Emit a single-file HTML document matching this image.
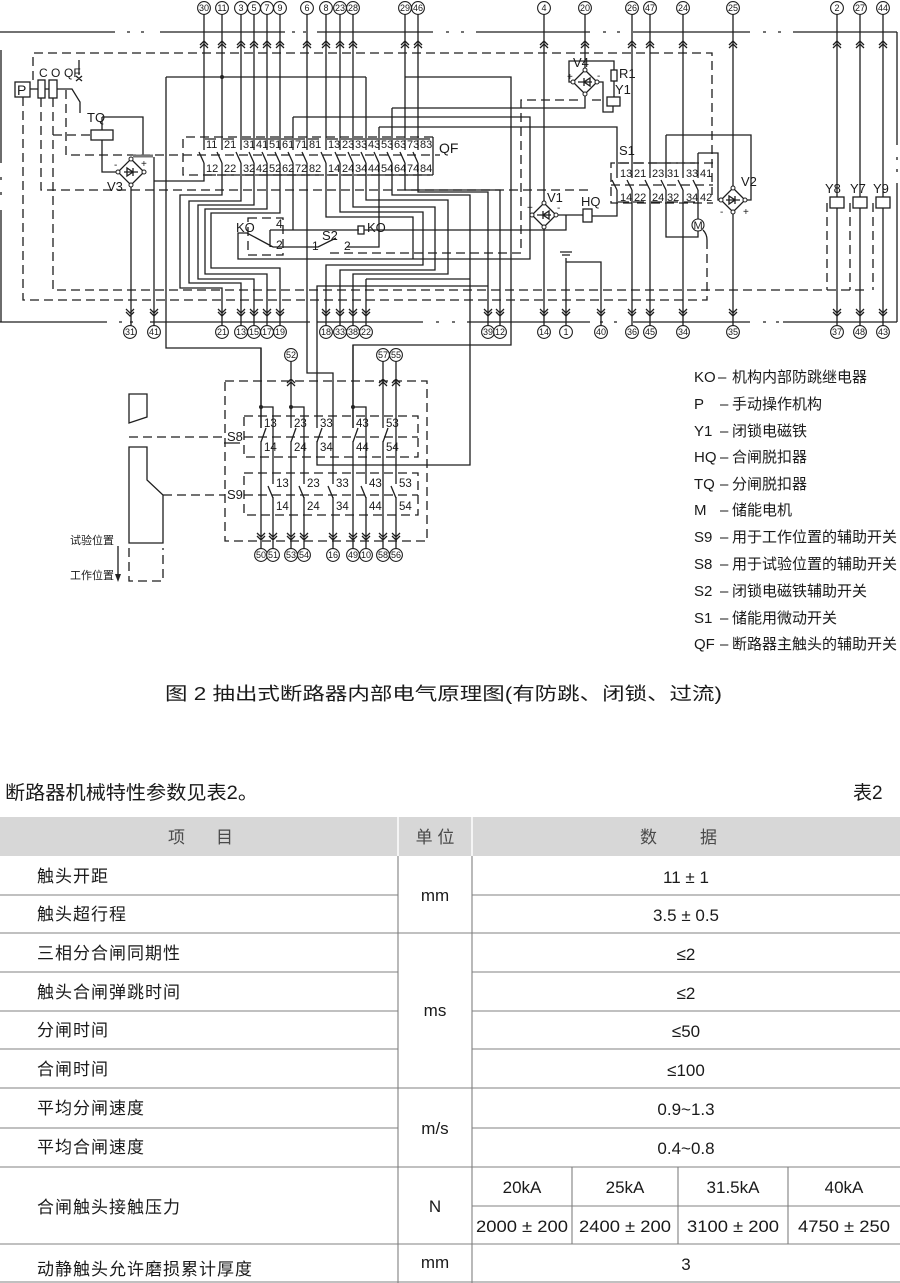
<!DOCTYPE html>
<html><head><meta charset="utf-8">
<style>
html,body{margin:0;padding:0;background:#fff;}
body{width:900px;height:1283px;overflow:hidden;position:relative;}
svg{position:absolute;left:0;top:0;}
.w{stroke:#1e1e1e;stroke-width:1.3;fill:none}
.d{stroke:#1e1e1e;stroke-width:1.3;fill:none;stroke-dasharray:9 5}
.t{font-family:"Liberation Sans","Noto Sans CJK SC",sans-serif;font-size:11px;fill:#1a1a1a}
.q{font-family:"Liberation Sans",sans-serif;font-size:11px;fill:#1a1a1a}
.n{font-family:"Liberation Sans",sans-serif;font-size:9px;fill:#1a1a1a;text-anchor:middle}
.c{fill:#fff;stroke:#1e1e1e;stroke-width:1.1}
.lg{font-family:"Liberation Sans","Noto Sans CJK SC",sans-serif;font-size:15px;fill:#1a1a1a}
.tb{font-family:"Liberation Sans","Noto Sans CJK SC",sans-serif;font-size:17px;fill:#1a1a1a;letter-spacing:1px}
.tv{font-family:"Liberation Sans","Noto Sans CJK SC",sans-serif;font-size:17px;fill:#1a1a1a;text-anchor:middle}
.th{font-family:"Liberation Sans","Noto Sans CJK SC",sans-serif;font-size:17px;fill:#4a4a4a}
.tl{stroke:#808080;stroke-width:1.1;fill:none}
</style></head><body>
<svg width="900" height="1283" viewBox="0 0 900 1283">
<!-- ===== frame dash-dot lines ===== -->
<path class="w" d="M0,32H115M127,32h3M141,32h3M160,32H285M292,32h3M303,32h3M317,32H433M446,32h3M461,32h3M476,32H590M603,32h3M617,32h3M633,32H750M763,32h3M778,32h3M793,32H897
M0,322H107M119,322h3M130,322h3M150,322H310M317,322H423M436,322h3M452,322h3M467,322H590M600,322h3M614,322h3M633,322H750M763,322h3M776,322h3M783,322H897
M1,50V163M1,177v3M1,192v3M1,210V322
M897,32V145M897,157v3M897,169v3M897,183V322"/>

<!-- ===== dashed lines ===== -->
<path class="d" d="M33,80V53H712V195
M23,97V300H707V235
M53,98V290H867
M41,98V190H590
M66,90V155H440
M53,135H90
M433,137H183V175H433
M330,253H521V100H580M592,100H605
M713,163H611V203H713M611,185H713
M827,203V290M850,203V290M873,203V290
M248,218H283V255H248Z"/>
<path class="w" d="M433,137V175"/>

<!-- ===== terminal chevrons top ===== -->
<path class="w" d="M200,45l4-4l4,4m-8,3l4-4l4,4M218,45l4-4l4,4m-8,3l4-4l4,4M237,45l4-4l4,4m-8,3l4-4l4,4M250,45l4-4l4,4m-8,3l4-4l4,4M263,45l4-4l4,4m-8,3l4-4l4,4M276,45l4-4l4,4m-8,3l4-4l4,4M303,45l4-4l4,4m-8,3l4-4l4,4M322,45l4-4l4,4m-8,3l4-4l4,4M336,45l4-4l4,4m-8,3l4-4l4,4M349,45l4-4l4,4m-8,3l4-4l4,4M401,45l4-4l4,4m-8,3l4-4l4,4M414,45l4-4l4,4m-8,3l4-4l4,4M540,45l4-4l4,4m-8,3l4-4l4,4M581,45l4-4l4,4m-8,3l4-4l4,4M628,45l4-4l4,4m-8,3l4-4l4,4M646,45l4-4l4,4m-8,3l4-4l4,4M679,45l4-4l4,4m-8,3l4-4l4,4M729,45l4-4l4,4m-8,3l4-4l4,4M833,45l4-4l4,4m-8,3l4-4l4,4M856,45l4-4l4,4m-8,3l4-4l4,4M879,45l4-4l4,4m-8,3l4-4l4,4"/>
<!-- bottom chevrons -->
<path class="w" d="M126,309l4,4l4-4m-8,3l4,4l4-4M150,309l4,4l4-4m-8,3l4,4l4-4M218,309l4,4l4-4m-8,3l4,4l4-4M237,309l4,4l4-4m-8,3l4,4l4-4M250,309l4,4l4-4m-8,3l4,4l4-4M263,309l4,4l4-4m-8,3l4,4l4-4M276,309l4,4l4-4m-8,3l4,4l4-4M322,309l4,4l4-4m-8,3l4,4l4-4M336,309l4,4l4-4m-8,3l4,4l4-4M349,309l4,4l4-4m-8,3l4,4l4-4M362,309l4,4l4-4m-8,3l4,4l4-4M484,309l4,4l4-4m-8,3l4,4l4-4M496,309l4,4l4-4m-8,3l4,4l4-4M540,309l4,4l4-4m-8,3l4,4l4-4M562,309l4,4l4-4m-8,3l4,4l4-4M597,309l4,4l4-4m-8,3l4,4l4-4M628,309l4,4l4-4m-8,3l4,4l4-4M646,309l4,4l4-4m-8,3l4,4l4-4M679,309l4,4l4-4m-8,3l4,4l4-4M729,309l4,4l4-4m-8,3l4,4l4-4M833,309l4,4l4-4m-8,3l4,4l4-4M856,309l4,4l4-4m-8,3l4,4l4-4M879,309l4,4l4-4m-8,3l4,4l4-4"/>

<!-- ===== main wires ===== -->
<path class="w" d="M204,14V150M204,163V181H154
M222,14V150M222,163V195H180V288H222V326
M241,14V150M241,163V201H189V283H241V326
M254,14V150M254,163V205H198V279H254V326
M267,14V150M267,163V209H205V274H267V326
M280,14V150M280,163V213H211V268H280V326
M293,117V150M293,163V230
M307,14V150M307,163V373H333V484
M326,14V150M326,163V217H413V259
M340,14V150M340,163V212H423V265H326V326
M353,14V150M353,163V207H435V270H340V326
M366,77V150M366,163V200H448V274H353V326
M366,279V326M366,279H470
M379,127V150M379,163V247H347
M392,108V150M392,163V195H470V465H317V441M317,428V286H488
M405,14V150M405,163V190H500V326
M418,14V150M418,163V192H488V326
M166,77H366M166,77V348H261V428
M405,77H511V345H353V428
M293,117H530V259H238V233H247L273,247M270,230V247
M270,230H359M364,230H566V215M556,215H583
M273,247H318L336,238M347,247
M379,127H617V178
M392,108H585V94
M154,157V326
M102,117H143V157M102,117V130M102,140V172H118
M131,185V326
M544,14V202M544,228V326
M585,14V70
M573,82H569V61H614V70M614,81V97M597,82H603V112H613V106
M617,190V216H592
M632,14V178M632,190V326
M650,14V178M650,190V326
M683,14V178M683,190V326
M666,135V178M666,190V237H698V231
M666,135H751V200H745
M698,153V178M698,190V219
M698,153H718V200H721
M733,14V187M733,213V326
M837,14V197M837,208V326
M860,14V197M860,208V326
M883,14V197M883,208V326
M566,258V326M566,262H601V326
M560,252H572M562,255H570
M30,89H38M45,89H49M57,89H72L80,102V113M79,60V75M76,76l6,5M82,76l-6,5
M703,230q4,4 4,10"/>
<path d="M133,156H153" stroke="#777" stroke-width="3"/>
<circle cx="222" cy="77" r="2" fill="#222"/>

<!-- QF contact blades & bars -->
<path class="w" d="M199,152L204,163M217,152L222,163M236,152L241,163M249,152L254,163M262,152L267,163M275,152L280,163M288,152L293,163M302,152L307,163M321,152L326,163M335,152L340,163M348,152L353,163M361,152L366,163M374,152L379,163M387,152L392,163M400,152L405,163M413,152L418,163
M205,139h11M223,139h11M242,139h11M255,139h11M268,139h11M281,139h11M294,139h11M308,139h11M327,139h11M341,139h11M354,139h11M367,139h11M380,139h11M393,139h11M406,139h11M419,139h11
M205,175h11M223,175h11M242,175h11M255,175h11M268,175h11M281,175h11M294,175h11M308,175h11M327,175h11M341,175h11M354,175h11M367,175h11M380,175h11M393,175h11M406,175h11M419,175h11"/>
<g class="q">
<text x="206" y="148">11</text><text x="224" y="148">21</text><text x="243" y="148">31</text><text x="256" y="148">41</text><text x="269" y="148">51</text><text x="282" y="148">61</text><text x="295" y="148">71</text><text x="309" y="148">81</text><text x="328" y="148">13</text><text x="342" y="148">23</text><text x="355" y="148">33</text><text x="368" y="148">43</text><text x="381" y="148">53</text><text x="394" y="148">63</text><text x="407" y="148">73</text><text x="420" y="148">83</text>
<text x="206" y="172">12</text><text x="224" y="172">22</text><text x="243" y="172">32</text><text x="256" y="172">42</text><text x="269" y="172">52</text><text x="282" y="172">62</text><text x="295" y="172">72</text><text x="309" y="172">82</text><text x="328" y="172">14</text><text x="342" y="172">24</text><text x="355" y="172">34</text><text x="368" y="172">44</text><text x="381" y="172">54</text><text x="394" y="172">64</text><text x="407" y="172">74</text><text x="420" y="172">84</text>
</g>
<text class="t" x="439" y="153" style="font-size:14px">QF</text>

<!-- S1 contacts -->
<path class="w" d="M612,180L617,190M627,180L632,190M645,180L650,190M661,180L666,190M678,180L683,190M693,180L698,190
M618,163h11M633,163h11M651,163h11M667,163h11M684,163h11
M618,202h11M633,202h11M651,202h11M667,202h11M684,202h11"/>
<g class="q">
<text x="620" y="177">13</text><text x="634" y="177">21</text><text x="652" y="177">23</text><text x="667" y="177">31</text><text x="686" y="177">33</text><text x="700" y="177">41</text>
<text x="620" y="201">14</text><text x="634" y="201">22</text><text x="652" y="201">24</text><text x="667" y="201">32</text><text x="686" y="201">34</text><text x="700" y="201">42</text>
</g>
<text class="t" x="619" y="155" style="font-size:13px">S1</text>

<!-- boxes -->
<g class="w">
<rect x="15" y="82" width="15" height="15"/>
<rect x="38" y="80" width="7" height="18"/>
<rect x="49" y="80" width="8" height="18"/>
<rect x="91" y="130" width="22" height="10"/>
<rect x="358" y="226" width="6" height="8"/>
<rect x="583" y="209" width="9" height="13"/>
<rect x="611" y="70" width="6" height="11"/>
<rect x="607" y="97" width="13" height="9"/>
<rect x="830" y="197" width="14" height="11"/>
<rect x="853" y="197" width="14" height="11"/>
<rect x="876" y="197" width="14" height="11"/>
</g>
<circle cx="698" cy="225" r="6" class="c"/>
<text class="t" x="693.5" y="229" style="font-size:11px">M</text>

<!-- bridges -->
<g>
<polygon class="w" points="131,159 144,172 131,185 118,172"/>
<path class="w" d="M124,172H138M127,168v8l6,-4z M133,168v8"/>
<polygon class="w" points="544,203 556,215 544,227 532,215"/>
<path class="w" d="M537,215H551M549,211v8l-6,-4z M543,211v8"/>
<polygon class="w" points="585,70 597,82 585,94 573,82"/>
<path class="w" d="M578,82H592M590,78v8l-6,-4z M584,78v8"/>
<polygon class="w" points="733,188 745,200 733,212 721,200"/>
<path class="w" d="M726,200H740M729,196v8l6,-4z M735,196v8"/>
</g>
<g fill="#fff" stroke="#1e1e1e" stroke-width="1">
<circle cx="131" cy="159" r="2"/><circle cx="144" cy="172" r="2"/><circle cx="131" cy="185" r="2"/><circle cx="118" cy="172" r="2"/>
<circle cx="544" cy="203" r="2"/><circle cx="556" cy="215" r="2"/><circle cx="544" cy="227" r="2"/><circle cx="532" cy="215" r="2"/>
<circle cx="585" cy="70" r="2"/><circle cx="597" cy="82" r="2"/><circle cx="585" cy="94" r="2"/><circle cx="573" cy="82" r="2"/>
<circle cx="733" cy="188" r="2"/><circle cx="745" cy="200" r="2"/><circle cx="733" cy="212" r="2"/><circle cx="721" cy="200" r="2"/>
</g>

<!-- diagram labels -->
<g class="t" style="font-size:13px">
<text x="17" y="95" style="font-size:14px">P</text>
<text x="39" y="77" style="font-size:12px">C</text><text x="51" y="77" style="font-size:12px">O</text><text x="64" y="77" style="font-size:12px">QF</text>
<text x="87" y="122">TQ</text>
<text x="107" y="191">V3</text>
<text x="114" y="168" style="font-size:10px">-</text><text x="141" y="167" style="font-size:10px">+</text>
<text x="236" y="232">KO</text>
<text x="276" y="228" style="font-size:12px">4</text><text x="276" y="249" style="font-size:12px">2</text>
<text x="322" y="240">S2</text>
<text x="312" y="250" style="font-size:12px">1</text><text x="344" y="250" style="font-size:12px">2</text>
<text x="367" y="232">KO</text>
<text x="547" y="202">V1</text>
<text x="527" y="211" style="font-size:10px">+</text><text x="557" y="211" style="font-size:10px">-</text>
<text x="581" y="206">HQ</text>
<text x="573" y="67">V4</text>
<text x="567" y="80" style="font-size:10px">+</text><text x="597" y="79" style="font-size:10px">-</text>
<text x="619" y="78">R1</text>
<text x="615" y="94">Y1</text>
<text x="741" y="186">V2</text>
<text x="720" y="215" style="font-size:10px">-</text><text x="743" y="215" style="font-size:10px">+</text>
<text x="825" y="193">Y8</text><text x="850" y="193">Y7</text><text x="873" y="193">Y9</text>
</g>

<!-- terminal circles top -->
<g>
<circle class="c" cx="204" cy="8" r="6.4"/><circle class="c" cx="222" cy="8" r="6.4"/><circle class="c" cx="241" cy="8" r="6.4"/><circle class="c" cx="254" cy="8" r="6.4"/><circle class="c" cx="267" cy="8" r="6.4"/><circle class="c" cx="280" cy="8" r="6.4"/><circle class="c" cx="307" cy="8" r="6.4"/><circle class="c" cx="326" cy="8" r="6.4"/><circle class="c" cx="340" cy="8" r="6.4"/><circle class="c" cx="353" cy="8" r="6.4"/><circle class="c" cx="405" cy="8" r="6.4"/><circle class="c" cx="418" cy="8" r="6.4"/><circle class="c" cx="544" cy="8" r="6.4"/><circle class="c" cx="585" cy="8" r="6.4"/><circle class="c" cx="632" cy="8" r="6.4"/><circle class="c" cx="650" cy="8" r="6.4"/><circle class="c" cx="683" cy="8" r="6.4"/><circle class="c" cx="733" cy="8" r="6.4"/><circle class="c" cx="837" cy="8" r="6.4"/><circle class="c" cx="860" cy="8" r="6.4"/><circle class="c" cx="883" cy="8" r="6.4"/>
</g>
<g class="n">
<text x="204" y="11.2">30</text><text x="222" y="11.2">11</text><text x="241" y="11.2">3</text><text x="254" y="11.2">5</text><text x="267" y="11.2">7</text><text x="280" y="11.2">9</text><text x="307" y="11.2">6</text><text x="326" y="11.2">8</text><text x="340" y="11.2">23</text><text x="353" y="11.2">28</text><text x="405" y="11.2">29</text><text x="418" y="11.2">46</text><text x="544" y="11.2">4</text><text x="585" y="11.2">20</text><text x="632" y="11.2">26</text><text x="650" y="11.2">47</text><text x="683" y="11.2">24</text><text x="733" y="11.2">25</text><text x="837" y="11.2">2</text><text x="860" y="11.2">27</text><text x="883" y="11.2">44</text>
</g>
<!-- terminal circles bottom -->
<g>
<circle class="c" cx="130" cy="332" r="6.4"/><circle class="c" cx="154" cy="332" r="6.4"/><circle class="c" cx="222" cy="332" r="6.4"/><circle class="c" cx="241" cy="332" r="6.4"/><circle class="c" cx="254" cy="332" r="6.4"/><circle class="c" cx="267" cy="332" r="6.4"/><circle class="c" cx="280" cy="332" r="6.4"/><circle class="c" cx="326" cy="332" r="6.4"/><circle class="c" cx="340" cy="332" r="6.4"/><circle class="c" cx="353" cy="332" r="6.4"/><circle class="c" cx="366" cy="332" r="6.4"/><circle class="c" cx="488" cy="332" r="6.4"/><circle class="c" cx="500" cy="332" r="6.4"/><circle class="c" cx="544" cy="332" r="6.4"/><circle class="c" cx="566" cy="332" r="6.4"/><circle class="c" cx="601" cy="332" r="6.4"/><circle class="c" cx="632" cy="332" r="6.4"/><circle class="c" cx="650" cy="332" r="6.4"/><circle class="c" cx="683" cy="332" r="6.4"/><circle class="c" cx="733" cy="332" r="6.4"/><circle class="c" cx="837" cy="332" r="6.4"/><circle class="c" cx="860" cy="332" r="6.4"/><circle class="c" cx="883" cy="332" r="6.4"/>
</g>
<g class="n">
<text x="130" y="335.2">31</text><text x="154" y="335.2">41</text><text x="222" y="335.2">21</text><text x="241" y="335.2">13</text><text x="254" y="335.2">15</text><text x="267" y="335.2">17</text><text x="280" y="335.2">19</text><text x="326" y="335.2">18</text><text x="340" y="335.2">33</text><text x="353" y="335.2">38</text><text x="366" y="335.2">22</text><text x="488" y="335.2">39</text><text x="500" y="335.2">12</text><text x="544" y="335.2">14</text><text x="566" y="335.2">1</text><text x="601" y="335.2">40</text><text x="632" y="335.2">36</text><text x="650" y="335.2">45</text><text x="683" y="335.2">34</text><text x="733" y="335.2">35</text><text x="837" y="335.2">37</text><text x="860" y="335.2">48</text><text x="883" y="335.2">43</text>
</g>

<!-- ===== S8 / S9 block ===== -->
<path class="d" d="M225,381H427V541H225Z M244,416H418V457H244Z M244,473H418V515H244Z M129,437H225M244,437H418 M163,495H225M244,495H418 M129,548V581H163V548"/>
<path class="w" d="M129,394H147V417L129,423Z M129,447H147V480L163,495V543H129Z
M261,348V428M261,441V549
M261,407H273V484M273,497V549
M291,361V428M291,441V549
M291,407H304V484M304,497V549
M333,497V549
M353,345V428M353,441V549
M353,407H366V484M366,497V549
M383,361V428M383,441V549
M396,361V484M396,497V549
M261,442L266,428M291,442L296,428M317,442L322,428M353,442L358,428M383,442L388,428
M268,486L273,498M299,486L304,498M328,486L333,498M361,486L366,498M391,486L396,498
M287,383l4-4l4,4m-8,3l4-4l4,4M379,383l4-4l4,4m-8,3l4-4l4,4M392,383l4-4l4,4m-8,3l4-4l4,4
M257,533l4,4l4-4m-8,3l4,4l4-4M269,533l4,4l4-4m-8,3l4,4l4-4M287,533l4,4l4-4m-8,3l4,4l4-4M300,533l4,4l4-4m-8,3l4,4l4-4M329,533l4,4l4-4m-8,3l4,4l4-4M349,533l4,4l4-4m-8,3l4,4l4-4M362,533l4,4l4-4m-8,3l4,4l4-4M379,533l4,4l4-4m-8,3l4,4l4-4M392,533l4,4l4-4m-8,3l4,4l4-4
M118,546V576 M224,443H240"/>
<path d="M118,582l-3,-8h6z" fill="#222"/>
<circle cx="261" cy="407" r="2" fill="#222"/><circle cx="291" cy="407" r="2" fill="#222"/><circle cx="353" cy="407" r="2" fill="#222"/>
<g class="q" style="font-size:11.5px">
<text x="264" y="427">13</text><text x="294" y="427">23</text><text x="320" y="427">33</text><text x="356" y="427">43</text><text x="386" y="427">53</text>
<text x="264" y="451">14</text><text x="294" y="451">24</text><text x="320" y="451">34</text><text x="356" y="451">44</text><text x="386" y="451">54</text>
<text x="276" y="487">13</text><text x="307" y="487">23</text><text x="336" y="487">33</text><text x="369" y="487">43</text><text x="399" y="487">53</text>
<text x="276" y="510">14</text><text x="307" y="510">24</text><text x="336" y="510">34</text><text x="369" y="510">44</text><text x="399" y="510">54</text>
</g>
<text class="t" x="227" y="441" style="font-size:13px">S8</text>
<text class="t" x="227" y="499" style="font-size:13px">S9</text>
<g>
<circle class="c" cx="291" cy="355" r="6.4"/><circle class="c" cx="383" cy="355" r="6.4"/><circle class="c" cx="396" cy="355" r="6.4"/>
<circle class="c" cx="261" cy="555" r="6.4"/><circle class="c" cx="273" cy="555" r="6.4"/><circle class="c" cx="291" cy="555" r="6.4"/><circle class="c" cx="304" cy="555" r="6.4"/><circle class="c" cx="333" cy="555" r="6.4"/><circle class="c" cx="353" cy="555" r="6.4"/><circle class="c" cx="366" cy="555" r="6.4"/><circle class="c" cx="383" cy="555" r="6.4"/><circle class="c" cx="396" cy="555" r="6.4"/>
</g>
<g class="n">
<text x="291" y="358.2">52</text><text x="383" y="358.2">57</text><text x="396" y="358.2">55</text>
<text x="261" y="558.2">50</text><text x="273" y="558.2">51</text><text x="291" y="558.2">53</text><text x="304" y="558.2">54</text><text x="333" y="558.2">16</text><text x="353" y="558.2">49</text><text x="366" y="558.2">10</text><text x="383" y="558.2">58</text><text x="396" y="558.2">56</text>
</g>
<text class="t" x="70" y="544">试验位置</text>
<text class="t" x="70" y="579">工作位置</text>

<!-- ===== legend ===== -->
<g class="lg">
<text x="694" y="382">KO</text><text x="718" y="382">–</text><text x="732" y="382">机构内部防跳继电器</text>
<text x="694" y="409">P</text><text x="720" y="409">–</text><text x="732" y="409">手动操作机构</text>
<text x="694" y="436">Y1</text><text x="720" y="436">–</text><text x="732" y="436">闭锁电磁铁</text>
<text x="694" y="462">HQ</text><text x="720" y="462">–</text><text x="732" y="462">合闸脱扣器</text>
<text x="694" y="489">TQ</text><text x="720" y="489">–</text><text x="732" y="489">分闸脱扣器</text>
<text x="694" y="515">M</text><text x="720" y="515">–</text><text x="732" y="515">储能电机</text>
<text x="694" y="542">S9</text><text x="720" y="542">–</text><text x="732" y="542">用于工作位置的辅助开关</text>
<text x="694" y="569">S8</text><text x="720" y="569">–</text><text x="732" y="569">用于试验位置的辅助开关</text>
<text x="694" y="596">S2</text><text x="720" y="596">–</text><text x="732" y="596">闭锁电磁铁辅助开关</text>
<text x="694" y="623">S1</text><text x="720" y="623">–</text><text x="732" y="623">储能用微动开关</text>
<text x="694" y="649">QF</text><text x="720" y="649">–</text><text x="732" y="649">断路器主触头的辅助开关</text>
</g>

<!-- ===== caption ===== -->
<text x="165" y="700" textLength="557" lengthAdjust="spacingAndGlyphs" style="font-family:'Liberation Sans','Noto Sans CJK SC',sans-serif;font-size:18px;fill:#1a1a1a">图 2  抽出式断路器内部电气原理图(有防跳、闭锁、过流)</text>

<text x="5" y="799" textLength="253" lengthAdjust="spacingAndGlyphs" style="font-family:'Liberation Sans','Noto Sans CJK SC',sans-serif;font-size:19px;fill:#1a1a1a">断路器机械特性参数见表2。</text>
<text x="853" y="799" style="font-family:'Liberation Sans','Noto Sans CJK SC',sans-serif;font-size:19px;fill:#1a1a1a">表2</text>

<!-- ===== table ===== -->
<rect x="0" y="817" width="900" height="39" fill="#d7d7d7"/>
<path d="M398,817V856M472,817V856" stroke="#fff" stroke-width="1.5"/>
<path class="tl" d="M0,895H398M472,895H900
M0,933H900
M0,972H398M472,972H900
M0,1011H398M472,1011H900
M0,1049H398M472,1049H900
M0,1088H900
M0,1128H398M472,1128H900
M0,1167H900
M472,1206H900
M0,1244H900
M0,1282H900
M398,856V1283M472,856V1283
M572,1167V1244M678,1167V1244M788,1167V1244"/>
<text class="th" x="168" y="843">项</text><text class="th" x="216" y="843">目</text>
<text class="th" x="435" y="843" text-anchor="middle">单 位</text>
<text class="th" x="640" y="843">数</text><text class="th" x="700" y="843">据</text>

<g class="tb">
<text x="37" y="882">触头开距</text>
<text x="37" y="920">触头超行程</text>
<text x="37" y="959">三相分合闸同期性</text>
<text x="37" y="998">触头合闸弹跳时间</text>
<text x="37" y="1036">分闸时间</text>
<text x="37" y="1075">合闸时间</text>
<text x="37" y="1114">平均分闸速度</text>
<text x="37" y="1153">平均合闸速度</text>
<text x="37" y="1213">合闸触头接触压力</text>
<text x="37" y="1275">动静触头允许磨损累计厚度</text>
</g>
<g class="tv">
<text x="435" y="901">mm</text>
<text x="435" y="1016">ms</text>
<text x="435" y="1134">m/s</text>
<text x="435" y="1212">N</text>
<text x="435" y="1268">mm</text>
<text x="686" y="883">11 ± 1</text>
<text x="686" y="921">3.5 ± 0.5</text>
<text x="686" y="960">≤2</text>
<text x="686" y="999">≤2</text>
<text x="686" y="1037">≤50</text>
<text x="686" y="1076">≤100</text>
<text x="686" y="1115">0.9~1.3</text>
<text x="686" y="1154">0.4~0.8</text>
<text x="522" y="1193">20kA</text>
<text x="625" y="1193">25kA</text>
<text x="733" y="1193">31.5kA</text>
<text x="844" y="1193">40kA</text>
<text x="522" y="1232" textLength="92" lengthAdjust="spacingAndGlyphs">2000 ± 200</text>
<text x="625" y="1232" textLength="92" lengthAdjust="spacingAndGlyphs">2400 ± 200</text>
<text x="733" y="1232" textLength="92" lengthAdjust="spacingAndGlyphs">3100 ± 200</text>
<text x="844" y="1232" textLength="92" lengthAdjust="spacingAndGlyphs">4750 ± 250</text>
<text x="686" y="1270">3</text>
</g>
</svg>
</body></html>
